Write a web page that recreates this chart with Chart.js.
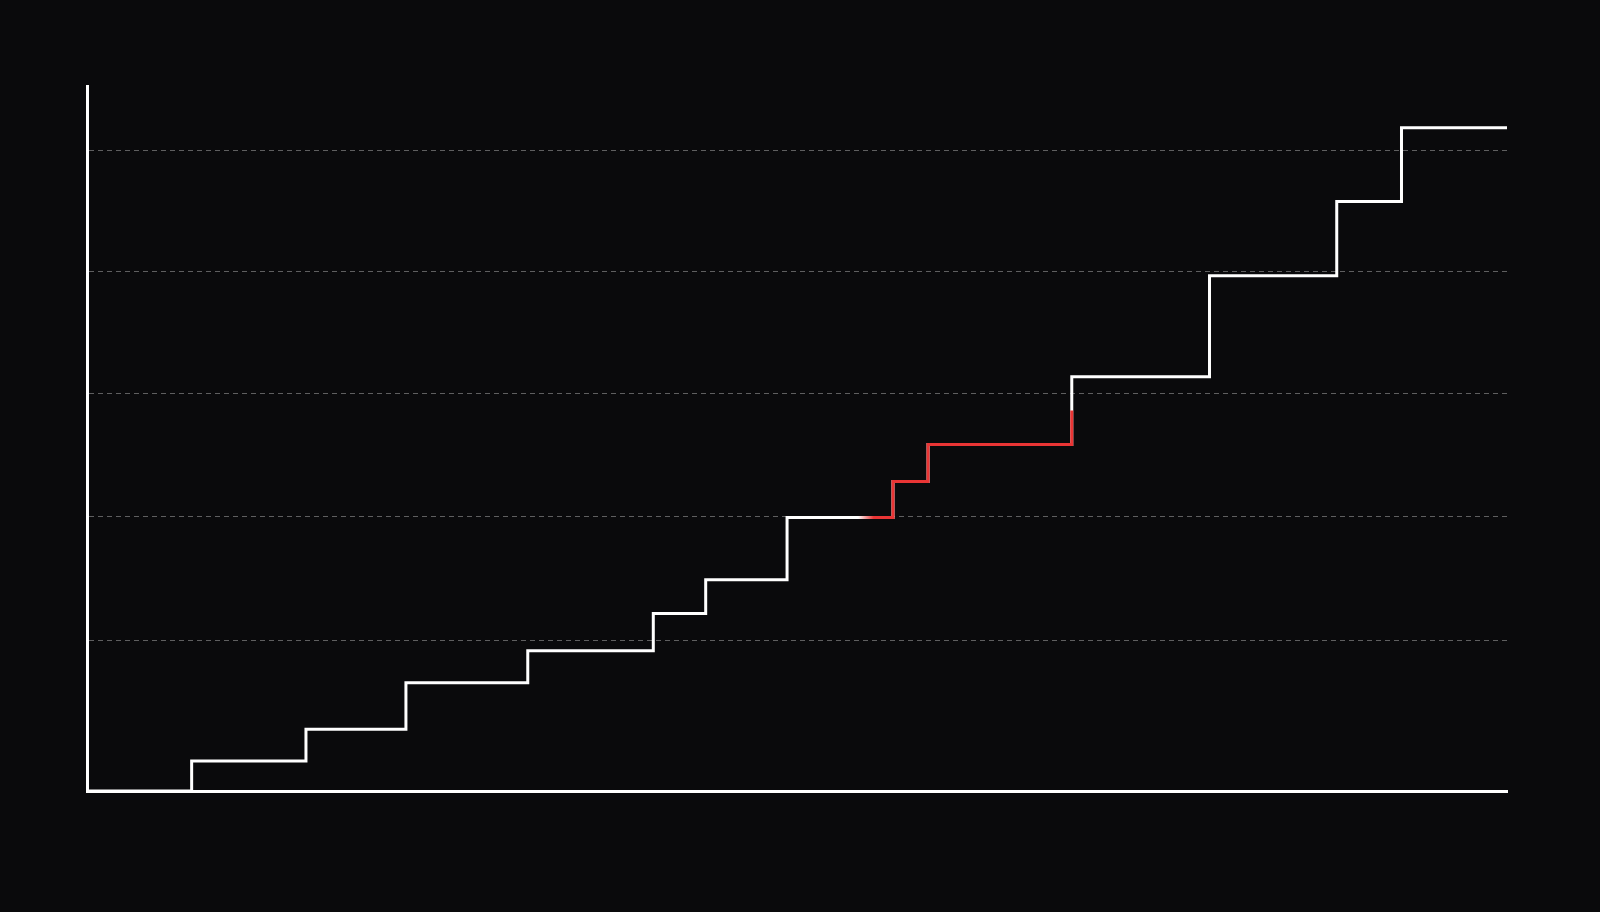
<!DOCTYPE html>
<html>
<head>
<meta charset="utf-8">
<script src="https://cdn.jsdelivr.net/npm/chart.js@4.4.1/dist/chart.umd.min.js"></script>
<style>
  html, body { margin: 0; padding: 0; background: #0a0a0c; }
  #wrap { width: 1600px; height: 912px; position: relative; }
</style>
</head>
<body>
<div id="wrap"><canvas id="c"></canvas></div>
<script>
// Step positions (x) and cumulative levels (y)
const stepX = [0, 7.37, 15.42, 22.46, 31.04, 39.88, 43.57, 49.30, 56.76, 59.23, 69.35, 79.05, 88.01, 92.57, 100];
const stepY = [0, 2.45, 5.03, 8.83, 11.45, 14.48, 17.24, 22.33, 25.26, 28.28, 33.82, 42.05, 48.11, 54.14, 54.14];
// Highlighted (red) portion
const hlX = [54.3, 56.76, 59.23, 69.35];
const hlY = [22.33, 25.26, 28.28, 31.05];
// Dashed gridline values
const gridValues = [12.31, 22.39, 32.41, 42.40, 52.30];
const yMax = 57.54;

const mainData = stepX.map((x, i) => ({ x: x, y: stepY[i] }));
const hlData = hlX.map((x, i) => ({ x: x, y: hlY[i] }));

const RED = '#ea3535';

new Chart(document.getElementById('c'), {
  type: 'line',
  data: {
    datasets: [
      {
        data: hlData,
        order: 0,
        stepped: 'before',
        borderWidth: 3,
        pointRadius: 0,
        borderJoinStyle: 'miter',
        borderColor: (ctx) => {
          const chart = ctx.chart;
          const area = chart.chartArea;
          if (!area) return RED;
          const xs = chart.scales.x;
          const a = xs.getPixelForValue(hlX[0]);
          const b = xs.getPixelForValue(hlX[0] + 1.1);
          const g = chart.ctx.createLinearGradient(a, 0, b, 0);
          g.addColorStop(0, 'rgba(234,53,53,0)');
          g.addColorStop(1, RED);
          return g;
        }
      },
      {
        data: mainData,
        order: 1,
        stepped: 'before',
        borderColor: '#ffffff',
        borderWidth: 3,
        pointRadius: 0,
        borderJoinStyle: 'miter'
      }
    ]
  },
  options: {
    responsive: true,
    maintainAspectRatio: false,
    animation: false,
    events: [],
    layout: { padding: { left: 87, top: 86, right: 93, bottom: 121 } },
    plugins: { legend: { display: false }, tooltip: { enabled: false } },
    scales: {
      x: {
        type: 'linear',
        min: 0,
        max: 100,
        ticks: { display: false },
        grid: { display: false, drawTicks: false },
        border: { display: true, color: '#ffffff', width: 3 }
      },
      y: {
        type: 'linear',
        min: 0,
        max: yMax,
        afterBuildTicks: (axis) => { axis.ticks = gridValues.map(v => ({ value: v })); },
        ticks: { display: false },
        grid: { color: 'rgba(255,255,255,0.35)', lineWidth: 1, drawTicks: false },
        border: { display: true, color: '#ffffff', width: 3, dash: [5, 4] }
      }
    }
  }
});
</script>
</body>
</html>
